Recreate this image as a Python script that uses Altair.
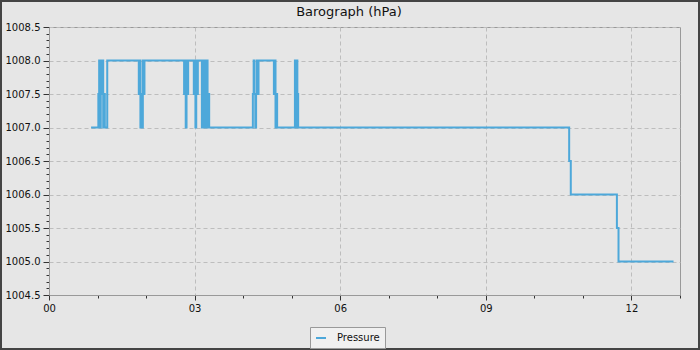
import altair as alt
import pandas as pd

# Time in minutes after 00:00 and pressure in hPa (step series)
minutes = [52, 61, 62, 63, 64, 65, 66, 67, 68, 69, 72,
           111, 112, 113, 114, 115, 116, 117, 118,
           167, 168, 169, 170, 171, 172,
           179, 180, 181, 182, 183, 184,
           189, 190, 191, 192, 193, 194, 195, 196, 197, 198,
           252, 253, 254, 255, 256, 257, 258, 259,
           278, 279, 280, 281, 282,
           304, 305, 306, 307, 308,
           643, 645, 702, 704, 772]
pressure = [1007, 1007.5, 1008, 1007, 1008, 1007.5, 1008, 1007, 1007.5, 1007, 1008,
            1007.5, 1008, 1007, 1007.5, 1007, 1008, 1007.5, 1008,
            1007.5, 1008, 1007, 1008, 1007.5, 1008,
            1007.5, 1008, 1007, 1008, 1007.5, 1008,
            1007, 1008, 1007, 1007.5, 1008, 1007, 1008, 1007, 1007.5, 1007,
            1007.5, 1008, 1007.5, 1007, 1007.5, 1008, 1007.5, 1008,
            1007.5, 1008, 1007, 1007.5, 1007,
            1008, 1007, 1008, 1007.5, 1007,
            1006.5, 1006, 1005.5, 1005, 1005]
series_name = "Pressure"
title_text = "Barograph (hPa)"

x_ticks = list(range(0, 14))
y_ticks = [round(1004.5 + 0.1 * i, 1) for i in range(41)]

df = pd.DataFrame({
    "hour": [m / 60 for m in minutes],
    "hPa": pressure,
    "series": [series_name] * len(minutes),
})

major_x = "datum.value % 3 === 0"
major_y = "abs(datum.value * 2 - round(datum.value * 2)) < 0.01"

x_axis = alt.Axis(
    title=None,
    values=x_ticks,
    labelExpr=f"{major_x} ? (datum.value < 10 ? '0' + datum.value : '' + datum.value) : ''",
    labelFlush=False,
    labelOverlap=False,
    grid=True,
    gridDash=[4, 3],
    gridColor="#bdbdbd",
    gridOpacity={"condition": {"test": major_x, "value": 1}, "value": 0},
    tickSize={"condition": {"test": major_x, "value": 5}, "value": 3},
    tickColor="#333333",
    domainColor="#999999",
    labelFontSize=10,
    labelColor="#111111",
    labelPadding=3,
    labelFont="DejaVu Sans",
)

y_axis = alt.Axis(
    title=None,
    values=y_ticks,
    labelExpr=f"{major_y} ? format(datum.value, '.1f') : ''",
    labelOverlap=False,
    grid=True,
    gridDash=[4, 3],
    gridColor="#bdbdbd",
    gridOpacity={"condition": {"test": major_y, "value": 1}, "value": 0},
    tickSize={"condition": {"test": major_y, "value": 6}, "value": 3},
    tickColor="#333333",
    domainColor="#999999",
    labelFontSize=10,
    labelColor="#111111",
    labelPadding=3,
    labelFont="DejaVu Sans",
)

line = alt.Chart(df).mark_line(
    interpolate="step-after", strokeWidth=2
).encode(
    x=alt.X("hour:Q", scale=alt.Scale(domain=[0, 13], nice=False, zero=False), axis=x_axis),
    y=alt.Y("hPa:Q", scale=alt.Scale(domain=[1004.5, 1008.5], nice=False, zero=False), axis=y_axis),
    color=alt.Color(
        "series:N",
        scale=alt.Scale(range=["#4da8da"]),
        legend=alt.Legend(
            title=None,
            orient="none",
            legendX=261,
            legendY=300,
            symbolType="stroke",
            symbolSize=100,
            symbolStrokeWidth=2,
            labelFontSize=10,
            labelFont="DejaVu Sans",
            labelColor="#111111",
            strokeColor="#999999",
            fillColor="#f0f0f0",
            padding=5,
            labelOffset=10,
        ),
    ),
)

title_mark = alt.Chart(pd.DataFrame({"t": [title_text]})).mark_text(
    fontSize=13, font="DejaVu Sans", color="#111111", align="center", baseline="middle"
).encode(
    text="t:N", x=alt.value(300), y=alt.value(-15)
)

frame = alt.Chart(pd.DataFrame({"a": [0]})).mark_rect(
    fill="transparent", stroke="#444444", strokeWidth=2, clip=False
).encode(
    x=alt.value(-48), x2=alt.value(650), y=alt.value(-26), y2=alt.value(322)
)

chart = alt.layer(line, title_mark, frame).properties(
    width=631,
    height=268,
    autosize=alt.AutoSizeParams(type="none"),
    padding={"left": 49, "top": 27, "right": 20, "bottom": 55},
    background="#e6e6e6",
).configure_view(stroke="#999999", strokeWidth=1)

chart.save("out.html", embed_options={"renderer": "svg", "actions": False})
